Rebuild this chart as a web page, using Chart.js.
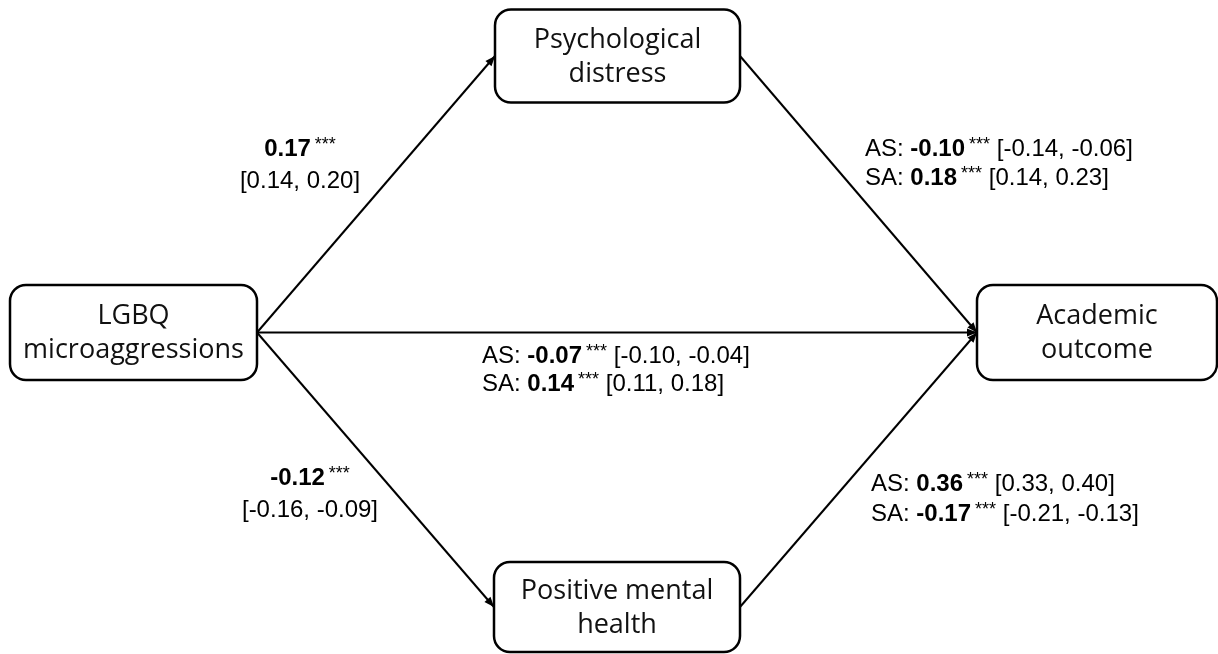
<!DOCTYPE html>
<html>
<head>
<meta charset="utf-8">
<script src="https://cdn.jsdelivr.net/npm/chart.js@4/dist/chart.umd.min.js"></script>
<style>
  html, body { margin: 0; padding: 0; background: #ffffff; }
  #wrap { width: 1218px; height: 654px; position: relative; }
</style>
</head>
<body>
<div id="wrap"><canvas id="pathModel"></canvas></div>
<script>
// ---- model content ----
const nodeNames = [
  ['LGBQ', 'microaggressions'],
  ['Psychological', 'distress'],
  ['Positive mental', 'health'],
  ['Academic', 'outcome']
];
// paths: [from node, to node]
const pathFrom = [0, 1, 0, 0, 2];
const pathTo   = [1, 3, 3, 2, 3];

const outcomeGroups = ['AS', 'SA'];
const sigStars = '***';

// a-paths: microaggressions -> mediators
const toDistressEst = [0.17];
const toDistressCI  = [[0.14, 0.20]];
const toMentalEst   = [-0.12];
const toMentalCI    = [[-0.16, -0.09]];

// b-paths and direct path, per outcome group (AS, SA)
const distressOutEst = [-0.10, 0.18];
const distressOutCI  = [[-0.14, -0.06], [0.14, 0.23]];
const directEst      = [-0.07, 0.14];
const directCI       = [[-0.10, -0.04], [0.11, 0.18]];
const mentalOutEst   = [0.36, -0.17];
const mentalOutCI    = [[0.33, 0.40], [-0.21, -0.13]];

// ---- diagram layout (diagram units = canvas px) ----
const layout = {
  nodes: [
    { cx: 133.5, cy: 332.5, w: 247, h: 95 },
    { cx: 617.5, cy: 56,    w: 245, h: 93 },
    { cx: 617,   cy: 607,   w: 246, h: 90 },
    { cx: 1097,  cy: 332.5, w: 240, h: 95 }
  ],
  labels: [
    { x: 300, y: [149, 181], align: 'center' },
    { x: 865, y: [149, 178], align: 'left' },
    { x: 482, y: [356, 384], align: 'left' },
    { x: 310, y: [478, 510], align: 'center' },
    { x: 871, y: [484, 514], align: 'left' }
  ]
};

const LABEL_FONT = '"Liberation Sans", Arial, sans-serif';
const NODE_FONT = '"Open Sans", "Noto Sans", sans-serif';
const fmt = v => v.toFixed(2);
const ciText = ci => '[' + fmt(ci[0]) + ', ' + fmt(ci[1]) + ']';

// Build each label as lines of styled runs
function singleLabel(est, ci) {
  return [
    [{ t: fmt(est), bold: true }, { t: sigStars, sup: true }],
    [{ t: ciText(ci) }]
  ];
}
function groupLabel(ests, cis) {
  return outcomeGroups.map((g, i) => [
    { t: g + ': ' },
    { t: fmt(ests[i]), bold: true },
    { t: sigStars, sup: true },
    { t: ' ' + ciText(cis[i]) }
  ]);
}
const labelRuns = [
  singleLabel(toDistressEst[0], toDistressCI[0]),
  groupLabel(distressOutEst, distressOutCI),
  groupLabel(directEst, directCI),
  singleLabel(toMentalEst[0], toMentalCI[0]),
  groupLabel(mentalOutEst, mentalOutCI)
];

// Edge datasets: from the right-middle of one box to the left-middle of the next
const edgeDatasets = pathFrom.map((f, i) => {
  const a = layout.nodes[f], b = layout.nodes[pathTo[i]];
  return {
    type: 'line',
    data: [
      { x: a.cx + a.w / 2, y: a.cy },
      { x: b.cx - b.w / 2, y: b.cy }
    ],
    borderColor: '#000',
    borderWidth: 2,
    pointRadius: 0,
    fill: false,
    tension: 0
  };
});

// Draws arrowheads, boxes, and the text
const diagramPlugin = {
  id: 'diagram',
  afterDatasetsDraw(chart) {
    const ctx = chart.ctx;
    const xs = chart.scales.x, ys = chart.scales.y;
    const px = v => xs.getPixelForValue(v), py = v => ys.getPixelForValue(v);
    ctx.save();

    // arrowheads
    edgeDatasets.forEach(ds => {
      const p0 = ds.data[0], p1 = ds.data[1];
      const x0 = px(p0.x), y0 = py(p0.y), x1 = px(p1.x), y1 = py(p1.y);
      const ang = Math.atan2(y1 - y0, x1 - x0);
      const len = 10, half = 4;
      ctx.beginPath();
      ctx.moveTo(x1, y1);
      ctx.lineTo(x1 - len * Math.cos(ang) + half * Math.sin(ang), y1 - len * Math.sin(ang) - half * Math.cos(ang));
      ctx.lineTo(x1 - len * Math.cos(ang) - half * Math.sin(ang), y1 - len * Math.sin(ang) + half * Math.cos(ang));
      ctx.closePath();
      ctx.fillStyle = '#000';
      ctx.fill();
    });

    // boxes
    layout.nodes.forEach((n, i) => {
      const l = px(n.cx - n.w / 2), r = px(n.cx + n.w / 2);
      const t = py(n.cy - n.h / 2), b = py(n.cy + n.h / 2);
      ctx.beginPath();
      ctx.roundRect(l, t, r - l, b - t, 16);
      ctx.fillStyle = '#fff';
      ctx.fill();
      ctx.lineWidth = 2.5;
      ctx.strokeStyle = '#000';
      ctx.stroke();
      ctx.fillStyle = '#111';
      ctx.font = '27px ' + NODE_FONT;
      ctx.textAlign = 'center';
      ctx.textBaseline = 'middle';
      const lines = nodeNames[i];
      const gap = 34;
      lines.forEach((s, k) => {
        const y = n.cy + 1 + (k - (lines.length - 1) / 2) * gap;
        ctx.fillText(s, px(n.cx), py(y));
      });
    });

    // path labels
    ctx.textAlign = 'left';
    ctx.textBaseline = 'middle';
    ctx.fillStyle = '#000';
    const fontFor = run => run.sup ? '18px ' + LABEL_FONT : (run.bold ? 'bold 24px ' : '24px ') + LABEL_FONT;
    labelRuns.forEach((lines, i) => {
      const L = layout.labels[i];
      lines.forEach((runs, k) => {
        const widths = runs.map(run => { ctx.font = fontFor(run); return ctx.measureText(run.t).width + (run.sup ? 4 : 0); });
        const total = widths.reduce((a, b) => a + b, 0);
        let x = L.align === 'center' ? px(L.x) - total / 2 : px(L.x);
        const y = py(L.y[k]);
        runs.forEach((run, j) => {
          ctx.font = fontFor(run);
          if (run.sup) {
            ctx.fillText(run.t, x + 4, y - 4);
          } else {
            ctx.fillText(run.t, x, y);
          }
          x += widths[j];
        });
      });
    });
    ctx.restore();
  }
};

new Chart(document.getElementById('pathModel'), {
  type: 'scatter',
  data: { datasets: edgeDatasets },
  options: {
    responsive: true,
    maintainAspectRatio: false,
    animation: false,
    layout: { padding: 0 },
    plugins: { legend: { display: false }, tooltip: { enabled: false } },
    scales: {
      x: { type: 'linear', min: 0, max: 1218, display: false },
      y: { type: 'linear', min: 0, max: 654, reverse: true, display: false }
    }
  },
  plugins: [diagramPlugin]
});
</script>
</body>
</html>
